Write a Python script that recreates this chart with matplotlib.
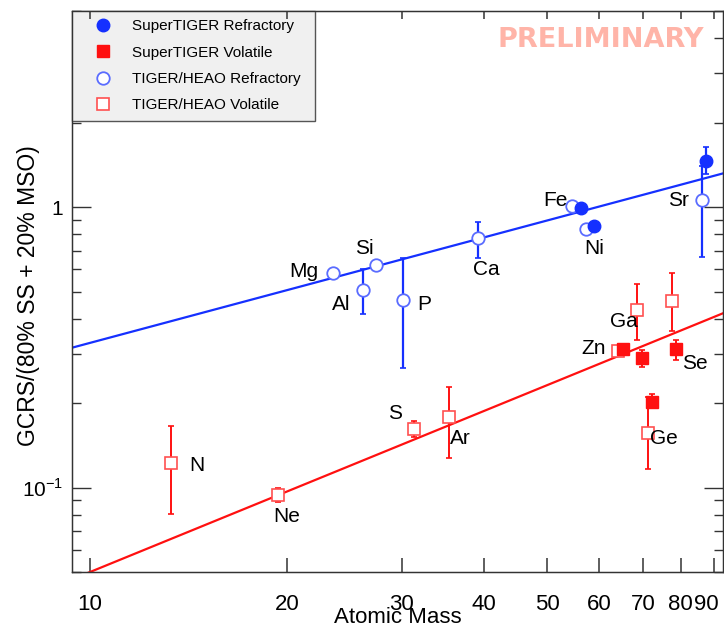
import numpy as np
import matplotlib
matplotlib.use("Agg")
import matplotlib.pyplot as plt
from matplotlib.ticker import FixedLocator, FuncFormatter, NullFormatter
from matplotlib.transforms import ScaledTranslation

plt.rcParams['font.family'] = ['Liberation Sans', 'DejaVu Sans']
plt.rcParams['mathtext.fontset'] = 'custom'
plt.rcParams['mathtext.rm'] = 'Liberation Sans'

# SuperTIGER refractory: Fe, Ni, Sr
st_ref_mass = [56.4, 59.0, 87.3]
st_ref_val = [0.995, 0.858, 1.458]
st_ref_lo = [0.995, 0.858, 1.315]
st_ref_hi = [0.995, 0.858, 1.636]

# SuperTIGER volatile: Zn, Ga, Ge, Se
st_vol_mass = [65.4, 69.7, 72.3, 78.7]
st_vol_val = [0.311, 0.289, 0.2025, 0.311]
st_vol_lo = [0.311, 0.268, 0.192, 0.284]
st_vol_hi = [0.311, 0.309, 0.215, 0.337]

# TIGER/HEAO refractory: Mg, Al, Si, P, Ca, Fe, Ni, Sr
th_ref_mass = [23.5, 26.2, 27.4, 30.1, 39.2, 54.6, 57.3, 86.1]
th_ref_val = [0.582, 0.507, 0.621, 0.465, 0.773, 1.006, 0.835, 1.056]
th_ref_lo = [0.582, 0.417, 0.621, 0.266, 0.66, 1.006, 0.835, 0.663]
th_ref_hi = [0.582, 0.600, 0.621, 0.66, 0.886, 1.006, 0.835, 1.40]

# TIGER/HEAO volatile: N, Ne, S, Ar, Zn, Ga, Ge, Se
th_vol_mass = [13.3, 19.4, 31.3, 35.4, 64.1, 68.5, 71.2, 77.5]
th_vol_val = [0.1228, 0.0939, 0.1623, 0.1786, 0.307, 0.430, 0.157, 0.4625]
th_vol_lo = [0.0804, 0.0885, 0.1516, 0.128, 0.307, 0.335, 0.1163, 0.361]
th_vol_hi = [0.166, 0.0994, 0.1728, 0.2285, 0.307, 0.53, 0.21, 0.58]

# fit lines (end points)
fit_mass = [9.38, 93.0]
fit_ref = [0.315, 1.32]
fit_vol = [0.047, 0.419]

# element labels and where they sit
elements = ['Mg', 'Si', 'Al', 'P', 'Ca', 'Fe', 'Ni', 'Sr', 'Ga', 'Zn', 'Se', 'Ge',
            'N', 'Ne', 'S', 'Ar']
label_x = [21.2, 26.3, 24.2, 32.5, 40.3, 51.5, 58.9, 79.3, 65.4, 58.9, 84.2, 75.5,
           14.56, 20.0, 29.3, 36.9]
label_y = [0.591, 0.709, 0.451, 0.451, 0.601, 1.059, 0.714, 1.059, 0.392, 0.312,
           0.276, 0.150, 0.1195, 0.0786, 0.183, 0.150]

xticks = [10, 20, 30, 40, 50, 60, 70, 80, 90]

BLUE = '#1530ff'
BLUE_OPEN = '#5a6cff'
RED = '#ff1010'
RED_OPEN = '#ff5050'
AXCOL = '#333333'


def yerr(val, lo, hi):
    val, lo, hi = np.array(val), np.array(lo), np.array(hi)
    return [val - lo, hi - val]


fig = plt.figure(figsize=(7.24, 6.24), dpi=100)
ax = fig.add_axes([0.0989, 0.0833, 0.9004, 0.899])
ax.set_xscale('log')
ax.set_yscale('log')
ax.set_xlim(9.38, 93.0)
ax.set_ylim(0.05, 5)

ax.plot(fit_mass, fit_ref, color=BLUE, lw=1.6, zorder=2)
ax.plot(fit_mass, fit_vol, color=RED, lw=1.6, zorder=2)

ax.errorbar(th_ref_mass, th_ref_val, yerr=yerr(th_ref_val, th_ref_lo, th_ref_hi),
            fmt='none', ecolor=BLUE, elinewidth=1.6, capsize=2.5, capthick=1.2, zorder=3)
ax.errorbar(st_ref_mass, st_ref_val, yerr=yerr(st_ref_val, st_ref_lo, st_ref_hi),
            fmt='none', ecolor=BLUE, elinewidth=1.6, capsize=2.5, capthick=1.2, zorder=3)
ax.errorbar(th_vol_mass, th_vol_val, yerr=yerr(th_vol_val, th_vol_lo, th_vol_hi),
            fmt='none', ecolor=RED, elinewidth=1.4, capsize=2.5, capthick=1.2, zorder=3)
ax.errorbar(st_vol_mass, st_vol_val, yerr=yerr(st_vol_val, st_vol_lo, st_vol_hi),
            fmt='none', ecolor=RED, elinewidth=1.4, capsize=2.5, capthick=1.2, zorder=3)

ax.plot(st_ref_mass, st_ref_val, 'o', ms=9, color=BLUE, mec=BLUE,
        label='SuperTIGER Refractory', zorder=5)
ax.plot(st_vol_mass, st_vol_val, 's', ms=8, color=RED, mec=RED,
        label='SuperTIGER Volatile', zorder=5)
ax.plot(th_ref_mass, th_ref_val, 'o', ms=9, mfc='white', mec=BLUE_OPEN, mew=1.3,
        label='TIGER/HEAO Refractory', zorder=4)
ax.plot(th_vol_mass, th_vol_val, 's', ms=8.5, mfc='white', mec=RED_OPEN, mew=1.2,
        label='TIGER/HEAO Volatile', zorder=4)

for name, lx, ly in zip(elements, label_x, label_y):
    ax.text(lx, ly, name, ha='center', va='center', fontsize=15, color='black', zorder=6)

# axes styling
for sp in ax.spines.values():
    sp.set_color(AXCOL)
    sp.set_linewidth(1.0)

ax.xaxis.set_major_locator(FixedLocator(xticks))
ax.xaxis.set_major_formatter(FuncFormatter(lambda v, p: f'{v:.0f}'))
ax.xaxis.set_minor_locator(FixedLocator([]))
ax.xaxis.set_minor_formatter(NullFormatter())
ax.tick_params(axis='x', which='major', direction='in', length=10, width=1.1,
               color=AXCOL, bottom=True, top=False, labelsize=16, pad=15.5)

ax.yaxis.set_major_locator(FixedLocator([0.1, 1]))
ax.yaxis.set_major_formatter(FuncFormatter(lambda v, p: '1' if v >= 1 else r'$10^{-1}$'))
ax.tick_params(axis='y', which='major', direction='in', length=14, width=1,
               color=AXCOL, right=True, labelsize=15, pad=6)
ax.tick_params(axis='y', which='minor', direction='in', length=6.5, width=1,
               color=AXCOL, right=True, labelleft=False)

# shorter ticks along the top edge
top = ax.twiny()
top.set_xscale('log')
top.set_xlim(ax.get_xlim())
top.xaxis.set_major_locator(FixedLocator(xticks))
top.xaxis.set_minor_locator(FixedLocator([]))
top.xaxis.set_major_formatter(NullFormatter())
top.tick_params(axis='x', which='major', direction='in', length=6, width=1.1,
                color=AXCOL, top=True, labeltop=False)
for sp in top.spines.values():
    sp.set_color(AXCOL)

ax.set_xlabel('Atomic Mass', fontsize=16)
ax.xaxis.set_label_coords(0.5, -0.062)
ax.set_ylabel('GCRS/(80% SS + 20% MSO)', fontsize=16.5)
ax.yaxis.set_label_coords(-0.048, 0.492)

leg = ax.legend(loc='upper left', bbox_to_anchor=(0, 0.85, 0.374, 0.15),
                mode='expand', borderaxespad=0, fontsize=11, frameon=True,
                fancybox=False, edgecolor='#555555', facecolor='#f0f0f0',
                framealpha=1, borderpad=0.55, handlelength=3.0, handletextpad=0.4,
                labelspacing=0.8, numpoints=1)
leg.get_frame().set_linewidth(1.0)
leg.set_zorder(10)

fig.text(0.8295, 0.936, 'PRELIMINARY', ha='center', va='center', fontsize=19.5,
         fontweight='bold', family='DejaVu Sans', color='#ffb4a8')

# nudge the last tick label left so it stays inside the picture
fig.canvas.draw()
for lab in ax.get_xticklabels():
    if lab.get_text() == '90':
        lab.set_transform(lab.get_transform() + ScaledTranslation(-5.5 / 72, 0, fig.dpi_scale_trans))

fig.savefig('out.png', dpi=100)
